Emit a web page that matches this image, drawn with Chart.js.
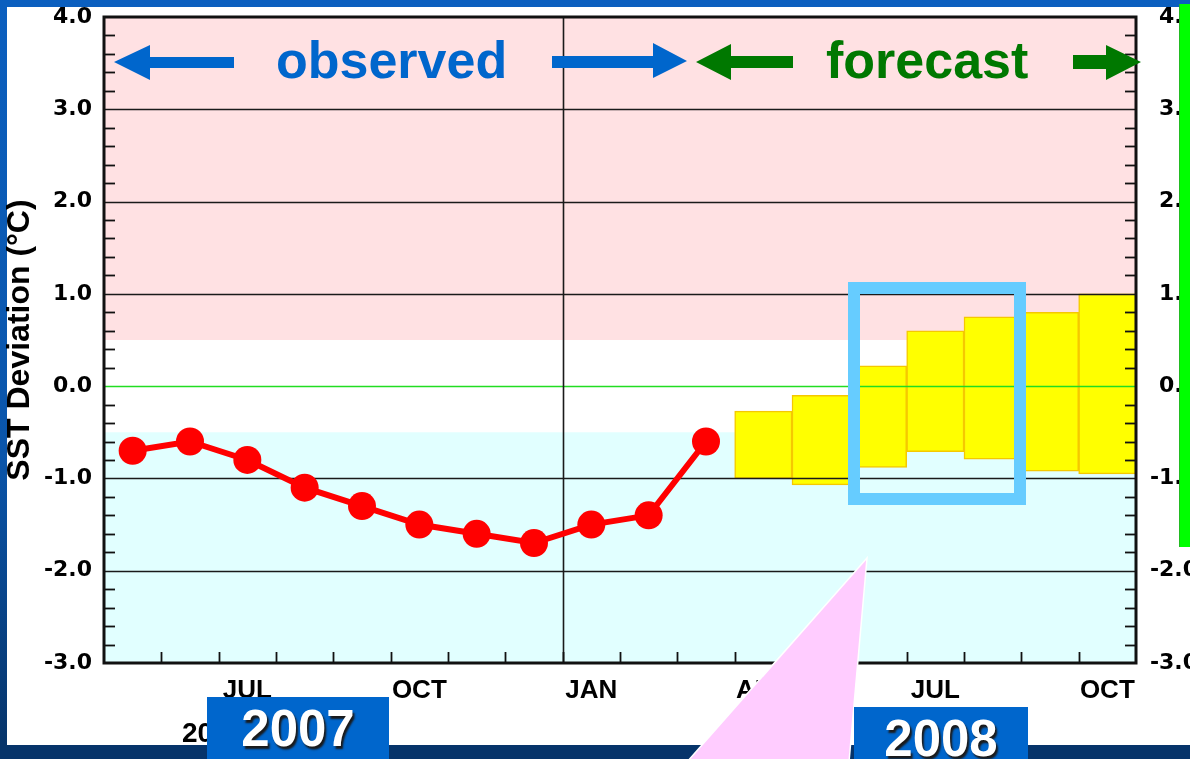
<!DOCTYPE html>
<html>
<head>
<meta charset="utf-8">
<script src="https://cdn.jsdelivr.net/npm/chart.js@4.4.1/dist/chart.umd.min.js"></script>
<style>
    html, body { margin: 0; padding: 0; width: 1190px; height: 759px; overflow: hidden; }
    body { position: relative; background: linear-gradient(#0b5fbf 0%, #0a55aa 60%, #06346a 98%); font-family: "Liberation Sans", Arial, sans-serif; }
    #bottom-strip { position: absolute; left: 0; top: 745px; width: 1190px; height: 14px; background: #06346a; }
    #panel { position: absolute; left: 7px; top: 7px; width: 1183px; height: 738px; background: #ffffff; }
    #chart { position: absolute; left: 0; top: 0; }
    .overlay { position: absolute; left: 0; top: 0; }
    .label { position: absolute; font-weight: bold; font-size: 52px; line-height: 52px; white-space: nowrap; }
    .year { position: absolute; background: #0066cc; color: #fff; font-weight: bold; font-size: 51px; display: flex; align-items: center; justify-content: center; text-shadow: 2px 3px 2px #1a1a1a; }
    #green-bar { position: absolute; left: 1179px; top: 4px; width: 11px; height: 543px; background: #00ff00; border-left: 1px solid #22bb22; }
</style>
</head>
<body>
<div id="bottom-strip"></div>
<div id="panel"></div>
<canvas id="chart" width="1190" height="759"></canvas>
<div id="green-bar"></div>
<svg class="overlay" width="1190" height="759">
    <!-- arrows -->
    <polygon fill="#0066cc" points="114,62 150,45 150,57 234,57 234,68 150,68 150,80"/>
    <polygon fill="#0066cc" points="552,56 653,56 653,43 687,61 653,78 653,68 552,68"/>
    <polygon fill="#007800" points="696,62 731,44 731,56 793,56 793,68 731,68 731,80"/>
    <polygon fill="#007800" points="1073,55 1106,55 1106,45 1141,62 1106,80 1106,69 1073,69"/>
    <!-- highlight box -->
    <rect x="854" y="288" width="166" height="211" fill="none" stroke="#66ccff" stroke-width="12"/>
    <!-- callout -->
    <polygon fill="#ffccff" stroke="#ffffff" stroke-width="1.5" points="867,558 687,762 849,762"/>
</svg>
<div class="label" style="left:276px; top:34px; color:#0066cc;">observed</div>
<div class="label" style="left:826px; top:34px; color:#007800;">forecast</div>
<div class="year" style="left:207px; top:697px; width:182px; height:62px;">2007</div>
<div class="year" style="left:854px; top:707px; width:174px; height:62px;">2008</div>
<script>
// months from MAY 2007 to OCT 2008
const months = ['MAY','JUN','JUL','AUG','SEP','OCT','NOV','DEC','JAN','FEB','MAR','APR','MAY','JUN','JUL','AUG','SEP','OCT'];
const shownMonths = ['JUL','OCT','JAN','APR'];
const observed = [-0.7, -0.6, -0.8, -1.1, -1.3, -1.5, -1.6, -1.7, -1.5, -1.4, -0.6];
const forecastLow = [-1.0, -1.07, -0.88, -0.71, -0.79, -0.92, -0.95];
const forecastHigh = [-0.27, -0.1, 0.22, 0.6, 0.75, 0.8, 1.0];
const yTicks = [-3, -2, -1, 0, 1, 2, 3, 4];
const warmLimit = 0.5, coldLimit = -0.5;

const lineData = months.map((m, i) => i < observed.length ? observed[i] : null);
const barData = months.map((m, i) => {
    const k = i - (months.length - forecastLow.length);
    return k >= 0 ? [forecastLow[k], forecastHigh[k]] : null;
});

const tickFont = { family: 'DejaVu Sans', weight: 'bold', size: 22 };

// keep the plot box where the original has it
function fixBox(w) {
    return s => { s.width = w; s.paddingTop = 0; s.paddingBottom = 0; };
}

const framePlugin = {
    id: 'frame',
    beforeDatasetsDraw(chart) {
        const { ctx, chartArea: a, scales: { y } } = chart;
        ctx.save();
        ctx.fillStyle = '#ffe1e3';
        ctx.fillRect(a.left, y.getPixelForValue(4), a.width, y.getPixelForValue(warmLimit) - y.getPixelForValue(4));
        ctx.fillStyle = '#e1ffff';
        ctx.fillRect(a.left, y.getPixelForValue(coldLimit), a.width, y.getPixelForValue(-3) - y.getPixelForValue(coldLimit));
        ctx.restore();
    },
    afterDatasetDraw(chart, args) {
        if (args.meta.type !== 'bar') return;
        const { ctx, chartArea: a, scales: { x, y } } = chart;
        ctx.save();
        ctx.lineWidth = 1.6;
        yTicks.forEach(v => {
            if (v === 4 || v === -3) return;
            const py = Math.round(y.getPixelForValue(v)) + 0.5;
            ctx.strokeStyle = v === 0 ? '#22dd22' : '#1a1a1a';
            ctx.beginPath(); ctx.moveTo(a.left, py); ctx.lineTo(a.right, py); ctx.stroke();
        });
        // year boundary (DEC | JAN)
        const jan = months.indexOf('JAN');
        const jx = Math.round((x.getPixelForValue(jan - 1) + x.getPixelForValue(jan)) / 2) + 0.5;
        ctx.strokeStyle = '#1a1a1a';
        ctx.beginPath(); ctx.moveTo(jx, a.top); ctx.lineTo(jx, a.bottom); ctx.stroke();
        ctx.restore();
    },
    afterDraw(chart) {
        const { ctx, chartArea: a, scales: { x, y } } = chart;
        ctx.save();
        ctx.strokeStyle = '#111';
        ctx.lineWidth = 1.8;
        // minor ticks on y, every 0.2
        for (let i = -15; i <= 20; i++) {
            if (i % 5 === 0) continue;
            const py = Math.round(y.getPixelForValue(i / 5)) + 0.5;
            ctx.beginPath(); ctx.moveTo(a.left, py); ctx.lineTo(a.left + 11, py); ctx.stroke();
            ctx.beginPath(); ctx.moveTo(a.right, py); ctx.lineTo(a.right - 11, py); ctx.stroke();
        }
        // month boundary ticks on x
        for (let i = 1; i < months.length; i++) {
            const px = Math.round((x.getPixelForValue(i - 1) + x.getPixelForValue(i)) / 2) + 0.5;
            ctx.beginPath(); ctx.moveTo(px, a.bottom); ctx.lineTo(px, a.bottom - 11); ctx.stroke();
        }
        ctx.lineWidth = 3;
        ctx.strokeRect(a.left, a.top, a.width, a.height);
        // year under the axis
        ctx.fillStyle = '#000';
        ctx.font = 'bold 28px "Liberation Sans"';
        ctx.textBaseline = 'alphabetic';
        ctx.fillText('2007', 182, 742);
        ctx.restore();
    }
};

new Chart(document.getElementById('chart'), {
    type: 'bar',
    data: {
        labels: months,
        datasets: [
            { type: 'bar', data: barData, backgroundColor: '#ffff00', borderColor: '#f5c800', borderWidth: 1.5, borderSkipped: false, barPercentage: 1, categoryPercentage: 1, order: 2, yAxisID: 'y' },
            { type: 'line', data: lineData, borderColor: '#ff0000', borderWidth: 6, pointRadius: 14, pointBackgroundColor: '#ff0000', pointBorderWidth: 0, spanGaps: false, order: 1, yAxisID: 'y' }
        ]
    },
    options: {
        responsive: false,
        animation: false,
        devicePixelRatio: 1,
        layout: { padding: { top: 17, left: 0, right: -8, bottom: 0 } },
        plugins: { legend: { display: false }, tooltip: { enabled: false } },
        scales: {
            x: {
                offset: true,
                grid: { display: false, drawTicks: false },
                border: { display: false },
                ticks: { autoSkip: false, maxRotation: 0, padding: 12, color: '#000', font: { family: 'Liberation Sans', weight: 'bold', size: 26 },
                    callback: (v, i) => shownMonths.includes(months[i]) ? months[i] : '' },
                afterFit: s => { s.height = 96; s.paddingLeft = 0; s.paddingRight = 0; }
            },
            y: {
                min: -3, max: 4,
                grid: { display: false, drawTicks: false },
                border: { display: false },
                ticks: { stepSize: 1, padding: 12, color: '#000', font: tickFont, callback: v => v.toFixed(1) },
                title: { display: true, text: 'SST Deviation (°C)', color: '#000', padding: { top: 1, bottom: 0 }, font: { family: 'Liberation Sans', weight: 'bold', size: 32 } },
                afterFit: fixBox(104)
            },
            y2: {
                position: 'right',
                min: -3, max: 4,
                grid: { display: false, drawTicks: false },
                border: { display: false },
                ticks: { stepSize: 1, padding: 12, crossAlign: 'far', color: '#000', font: tickFont, callback: v => v.toFixed(1) },
                afterFit: fixBox(62)
            }
        }
    },
    plugins: [framePlugin]
});
</script>
</body>
</html>
